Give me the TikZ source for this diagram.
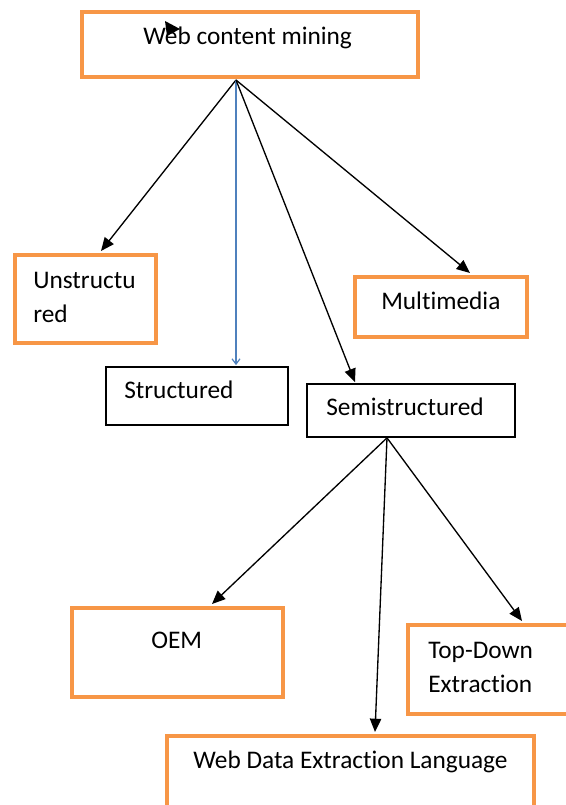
\documentclass[tikz,border=0pt]{standalone}
\usepackage{fontspec}
\setmainfont{Carlito}[Ligatures=NoCommon]
\usetikzlibrary{arrows.meta,fit,calc}
\definecolor{boxorange}{HTML}{F79646}
\definecolor{arrblue}{HTML}{4F81BD}
\tikzset{
  obox/.style={draw=boxorange, line width=3pt, inner sep=0pt, rectangle},
  kbox/.style={draw=black, line width=1.3pt, inner sep=0pt, rectangle},
  txt/.style={inner sep=0pt, anchor=base west, font=\fontsize{19}{25.5}\selectfont, align=left},
  arr/.style={draw=black, line width=1pt, -{Triangle[length=10pt,width=8.5pt]}},
  barr/.style={draw=arrblue, line width=0.9pt, -{Straight Barb[length=4pt,width=6pt]}},
}
\begin{document}
\begin{tikzpicture}[x=0.75pt,y=-0.75pt]
\useasboundingbox (0,0) rectangle (565,805);
% boxes
\node[obox, fit={(82,12) (418,77)}] (top) {};
\node[obox, fit={(15,255) (156,343)}] (unstr) {};
\node[kbox, fit={(106,367) (288,425)}] (struct) {};
\node[obox, fit={(355,277) (527,337)}] (multi) {};
\node[kbox, fit={(307,384) (515,437)}] (semi) {};
\node[obox, fit={(72,608) (283,697)}] (oem) {};
\node[obox, fit={(408,625) (568,714)}] (td) {};
\node[obox, fit={(167,736) (534,810)}] (wdel) {};
% texts
\node[txt] (ttop) at (143,45) {Web content mining};
\node[txt] (tunstr) at (33,322) {Unstructu\\red};
\node[txt] (tstruct) at (124,398) {Structured};
\node[txt] (tmulti) at (381,309) {Multimedia};
\node[txt] (tsemi) at (326,415) {Semistructured};
\node[txt] (toem) at (151,648) {OEM};
\node[txt] (ttd) at (428,692) {Top-Down\\Extraction};
\node[txt] (twdel) at (193,768) {Web Data Extraction Language};
% stray marker
\fill[black] (165,21) -- (180,29) -- (167,36) -- cycle;
% connectors
\coordinate (src1) at ($(top.south)+(-14,1)$);
\coordinate (src2) at ($(semi.south)+(-24,0)$);
\draw[arr] (src1) -- ($(unstr.north)+(15.5,-2)$);
\draw[barr] (src1) -- ($(struct.north)+(39,-1)$);
\draw[arr] (src1) -- ($(semi.north)+(-56,-1)$);
\draw[arr] (src1) -- ($(multi.north)+(29,-2)$);
\draw[arr] (src2) -- ($(oem.north)+(34.5,-2)$);
\draw[arr] (src2) -- ($(wdel.north)+(24.5,-2)$);
\draw[arr] (src2) -- ($(td.north)+(34,-2)$);
\end{tikzpicture}
\end{document}
